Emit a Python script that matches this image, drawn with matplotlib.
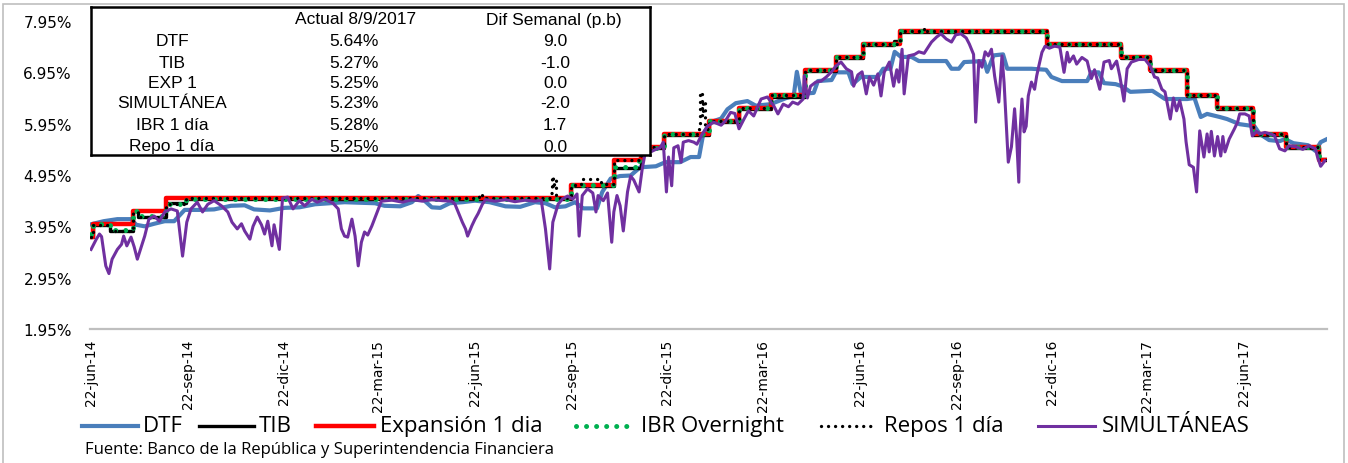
import matplotlib
matplotlib.use('Agg')
import matplotlib.pyplot as plt
from matplotlib.lines import Line2D
from matplotlib.patches import Rectangle
import pandas as pd

# Tasas de interés de corto plazo, 22-jun-2014 a 8-sep-2017 (% efectivo anual)
inicio = pd.Timestamp('2014-06-22')

# Tasa de expansión 1 día (política), fechas de cambio
exp_fechas = ['2014-06-22', '2014-06-24', '2014-08-01', '2014-09-01', '2015-09-21',
              '2015-11-01', '2015-11-27', '2015-12-19', '2016-01-30', '2016-02-28',
              '2016-03-29', '2016-05-01', '2016-05-30', '2016-06-25', '2016-07-30',
              '2016-12-17', '2017-02-25', '2017-03-25', '2017-04-29', '2017-05-27',
              '2017-07-01', '2017-08-01', '2017-09-01', '2017-09-08']
exp_valores = [3.75, 4.00, 4.25, 4.50, 4.75, 5.25, 5.50, 5.75, 6.00, 6.25,
               6.50, 7.00, 7.25, 7.50, 7.75, 7.50, 7.25, 7.00, 6.50, 6.25,
               5.75, 5.50, 5.25, 5.25]

# TIB
tib_fechas = ['2014-06-22', '2014-06-24', '2014-07-10', '2014-08-01', '2014-08-06',
              '2014-09-01', '2014-09-20', '2015-09-21', '2015-11-01', '2015-11-27',
              '2015-12-19', '2016-01-30', '2016-02-28', '2016-03-29', '2016-05-01',
              '2016-05-30', '2016-06-25', '2016-07-24', '2016-07-30', '2016-12-17',
              '2017-02-25', '2017-03-25', '2017-04-29', '2017-05-27', '2017-07-01',
              '2017-08-01', '2017-09-01', '2017-09-08']
tib_valores = [3.75, 3.98, 3.86, 4.24, 4.14, 4.40, 4.49, 4.74, 5.08, 5.47,
               5.73, 5.98, 6.23, 6.47, 6.97, 7.23, 7.48, 7.56, 7.73, 7.48,
               7.23, 6.98, 6.48, 6.23, 5.73, 5.48, 5.26, 5.27]

# IBR overnight
ibr_fechas = ['2014-06-22', '2014-06-24', '2014-07-10', '2014-08-01', '2014-08-06',
              '2014-09-01', '2014-09-20', '2015-09-21', '2015-11-01', '2015-11-25',
              '2015-12-19', '2016-01-30', '2016-02-28', '2016-03-29', '2016-05-01',
              '2016-05-30', '2016-06-25', '2016-07-30', '2016-12-17', '2017-02-25',
              '2017-03-25', '2017-04-29', '2017-05-27', '2017-07-01', '2017-08-01',
              '2017-09-01', '2017-09-08']
ibr_valores = [3.80, 3.99, 3.87, 4.25, 4.15, 4.38, 4.49, 4.75, 5.10, 5.48,
               5.75, 6.00, 6.25, 6.50, 7.00, 7.25, 7.50, 7.75, 7.50, 7.25,
               7.00, 6.50, 6.25, 5.75, 5.50, 5.28, 5.28]

# Repos 1 día
repos_fechas = ['2014-06-22', '2014-06-24', '2014-07-10', '2014-08-01', '2014-08-06',
                '2014-09-01', '2014-09-20', '2015-06-26', '2015-06-29', '2015-09-01',
                '2015-09-03', '2015-09-04', '2015-09-05', '2015-09-07', '2015-09-09',
                '2015-09-21', '2015-10-01', '2015-10-20', '2015-11-01', '2015-11-27',
                '2015-12-19', '2016-01-21', '2016-01-22', '2016-01-24', '2016-01-25',
                '2016-01-27', '2016-01-30', '2016-02-28', '2016-03-29', '2016-05-01',
                '2016-05-30', '2016-06-25', '2016-07-30', '2016-08-22', '2016-08-24',
                '2016-12-17', '2017-02-25', '2017-03-25', '2017-04-29', '2017-05-27',
                '2017-07-01', '2017-08-01', '2017-09-01', '2017-09-08']
repos_valores = [3.75, 3.98, 3.86, 4.22, 4.14, 4.38, 4.50, 4.58, 4.50, 4.60,
                 4.93, 4.70, 4.85, 4.55, 4.50, 4.75, 4.88, 4.78, 5.25, 5.50,
                 5.75, 5.95, 6.57, 6.10, 6.40, 5.85, 6.00, 6.25, 6.50, 7.00,
                 7.25, 7.50, 7.75, 7.82, 7.75, 7.50, 7.25, 7.00, 6.50, 6.25,
                 5.75, 5.50, 5.25, 5.25]

# DTF (días desde 22-jun-2014)
dtf_dias = [0, 12, 25, 38, 43, 51, 60, 70, 79, 89,
            103, 117, 133, 146, 155, 170, 184, 198, 213, 227,
            241, 255, 270, 279, 294, 305, 311, 317, 324, 332,
            341, 353, 365, 379, 394, 408, 422, 432, 441, 451,
            460, 468, 481, 486, 494, 503, 513, 522, 537, 546,
            560, 570, 578, 582, 589, 599, 605, 613, 624, 632,
            646, 661, 668, 671, 675, 687, 691, 704, 708, 720,
            724, 732, 748, 753, 760, 764, 770, 780, 787, 813,
            818, 825, 830, 849, 852, 858, 867, 871, 894, 908,
            913, 923, 947, 951, 958, 963, 974, 980, 988, 1009,
            1021, 1042, 1049, 1055, 1061, 1073, 1080, 1092, 1106, 1111,
            1120, 1130, 1135, 1143, 1157, 1164, 1169, 1174]
dtf_valores = [3.99, 4.05, 4.09, 4.09, 3.98, 3.95, 4.00, 4.05, 4.05, 4.27,
               4.27, 4.28, 4.35, 4.36, 4.28, 4.26, 4.31, 4.32, 4.38, 4.40,
               4.42, 4.41, 4.40, 4.35, 4.34, 4.42, 4.54, 4.45, 4.32, 4.31,
               4.40, 4.42, 4.45, 4.42, 4.34, 4.33, 4.42, 4.40, 4.32, 4.34,
               4.42, 4.30, 4.30, 4.62, 4.88, 4.93, 4.94, 5.10, 5.12, 5.20,
               5.20, 5.30, 5.30, 5.75, 5.98, 6.05, 6.23, 6.35, 6.39, 6.30,
               6.33, 6.45, 6.49, 6.96, 6.53, 6.55, 6.78, 6.80, 6.95, 6.95,
               6.72, 6.86, 6.86, 7.02, 7.02, 7.35, 7.25, 7.25, 7.17, 7.17,
               7.02, 7.02, 7.15, 7.17, 6.96, 7.28, 7.30, 7.02, 7.02, 7.00,
               6.86, 6.78, 6.78, 6.95, 6.95, 6.74, 6.72, 6.68, 6.57, 6.59,
               6.43, 6.43, 6.45, 6.08, 6.14, 6.08, 6.04, 5.94, 5.90, 5.75,
               5.63, 5.61, 5.65, 5.57, 5.53, 5.42, 5.59, 5.64]

# Simultáneas (días desde 22-jun-2014)
sim_dias = [0, 5, 8, 10, 14, 17, 20, 25, 29, 31,
            34, 38, 41, 44, 48, 51, 55, 60, 65, 70,
            76, 82, 87, 91, 95, 101, 106, 111, 117, 124,
            130, 134, 139, 143, 146, 151, 154, 158, 162, 165,
            168, 172, 174, 179, 182, 187, 192, 198, 203, 210,
            215, 222, 230, 235, 238, 241, 244, 248, 251, 254,
            257, 260, 263, 267, 272, 276, 286, 296, 305, 315,
            324, 334, 343, 346, 349, 353, 356, 358, 362, 365,
            368, 372, 375, 384, 394, 403, 413, 422, 428, 432,
            436, 439, 444, 448, 453, 458, 462, 464, 467, 472,
            477, 480, 482, 487, 491, 495, 497, 500, 503, 506,
            510, 513, 516, 521, 524, 527, 532, 537, 541, 544,
            547, 549, 552, 554, 558, 561, 563, 568, 573, 576,
            580, 586, 592, 599, 603, 608, 612, 616, 621, 625,
            630, 637, 643, 649, 653, 658, 663, 667, 672, 677,
            678, 681, 684, 689, 694, 699, 704, 708, 713, 718,
            723, 725, 729, 733, 737, 740, 744, 748, 751, 754,
            759, 763, 766, 768, 771, 773, 777, 783, 787, 792,
            799, 804, 808, 813, 818, 822, 827, 832, 835, 839,
            841, 844, 847, 850, 853, 856, 859, 863, 866, 868,
            872, 875, 878, 880, 882, 883, 885, 887, 889, 891,
            894, 897, 899, 901, 904, 907, 911, 916, 921, 925,
            928, 930, 934, 937, 942, 947, 951, 954, 959, 963,
            968, 970, 975, 978, 982, 985, 989, 996, 1002, 1007,
            1011, 1014, 1018, 1021, 1026, 1029, 1032, 1035, 1039, 1041,
            1044, 1048, 1051, 1054, 1058, 1061, 1063, 1065, 1068, 1071,
            1074, 1076, 1078, 1082, 1087, 1090, 1092, 1097, 1101, 1104,
            1108, 1111, 1116, 1121, 1125, 1130, 1135, 1139, 1145, 1152,
            1158, 1164, 1166, 1169, 1173]
sim_valores = [3.50, 3.70, 3.80, 3.75, 3.18, 3.03, 3.31, 3.50, 3.60, 3.76,
               3.57, 3.74, 3.55, 3.31, 3.57, 3.76, 4.09, 4.15, 4.05, 4.23,
               4.29, 4.25, 3.37, 4.03, 4.29, 4.42, 4.23, 4.38, 4.45, 4.35,
               4.23, 4.03, 3.90, 4.00, 3.86, 3.70, 3.95, 4.13, 3.98, 3.80,
               4.05, 3.57, 3.98, 3.50, 4.50, 4.52, 4.29, 4.45, 4.35, 4.48,
               4.42, 4.48, 4.40, 4.29, 3.90, 3.76, 3.74, 4.09, 3.76, 3.18,
               3.64, 3.84, 3.78, 3.96, 4.23, 4.44, 4.46, 4.42, 4.47, 4.44,
               4.47, 4.45, 4.44, 4.38, 4.23, 4.03, 3.90, 3.76, 3.96, 4.09,
               4.20, 4.38, 4.47, 4.44, 4.47, 4.43, 4.46, 4.44, 4.46, 3.90,
               3.12, 4.03, 4.38, 4.48, 4.54, 4.48, 4.58, 3.76, 4.55, 4.68,
               4.60, 4.23, 4.55, 4.45, 4.60, 3.64, 4.23, 4.55, 4.35, 3.86,
               4.62, 4.93, 4.85, 4.62, 5.07, 5.40, 5.40, 5.45, 5.48, 5.59,
               4.62, 5.30, 4.74, 5.48, 5.52, 5.20, 5.59, 5.62, 5.59, 5.55,
               5.71, 5.90, 5.98, 5.92, 6.00, 6.17, 6.15, 5.85, 6.05, 6.20,
               6.10, 6.43, 6.47, 6.30, 6.14, 6.33, 6.28, 6.37, 6.33, 6.43,
               6.88, 6.45, 6.68, 6.76, 6.78, 6.86, 6.96, 7.07, 7.15, 7.02,
               6.96, 6.68, 6.90, 6.96, 6.53, 6.86, 6.70, 6.92, 6.49, 6.95,
               7.15, 6.68, 7.00, 6.76, 7.40, 6.53, 7.27, 7.30, 7.35, 7.32,
               7.54, 7.64, 7.70, 7.60, 7.54, 7.68, 7.70, 7.62, 7.50, 7.30,
               5.98, 7.18, 7.05, 7.35, 7.27, 7.40, 6.88, 6.37, 7.27, 6.75,
               5.20, 5.50, 6.24, 5.65, 4.81, 5.72, 6.43, 5.79, 5.90, 6.49,
               6.76, 6.62, 6.88, 7.07, 7.34, 7.46, 7.42, 7.46, 7.44, 6.95,
               7.34, 7.15, 7.27, 7.11, 7.24, 7.17, 6.83, 7.00, 6.62, 7.15,
               7.18, 7.02, 7.17, 6.88, 6.39, 7.02, 7.15, 7.20, 7.20, 7.07,
               6.86, 6.84, 6.62, 6.57, 6.04, 6.45, 6.20, 6.40, 6.04, 5.60,
               5.15, 5.10, 4.62, 5.81, 5.30, 5.75, 5.40, 5.80, 5.32, 5.70,
               5.32, 5.70, 5.40, 5.65, 5.85, 5.98, 6.14, 6.14, 6.10, 5.71,
               5.80, 5.75, 5.78, 5.75, 5.72, 5.46, 5.42, 5.52, 5.50, 5.45,
               5.52, 5.46, 5.30, 5.12, 5.23]

# Eje x
tick_fechas = ['2014-06-22', '2014-09-22', '2014-12-22', '2015-03-22', '2015-06-22',
               '2015-09-22', '2015-12-22', '2016-03-22', '2016-06-22', '2016-09-22',
               '2016-12-22', '2017-03-22', '2017-06-22']
tick_etiquetas = ['22-jun-14', '22-sep-14', '22-dic-14', '22-mar-15', '22-jun-15',
                  '22-sep-15', '22-dic-15', '22-mar-16', '22-jun-16', '22-sep-16',
                  '22-dic-16', '22-mar-17', '22-jun-17']
y_ticks = [1.95, 2.95, 3.95, 4.95, 5.95, 6.95, 7.95]

# Tabla resumen
tabla_series = ['DTF', 'TIB', 'EXP 1', 'SIMULTÁNEA', 'IBR 1 día', 'Repo 1 día']
tabla_actual = ['5.64%', '5.27%', '5.25%', '5.23%', '5.28%', '5.25%']
tabla_dif = ['9.0', '-1.0', '0.0', '-2.0', '1.7', '0.0']

W, H = 1348, 464


def fx(x):
    return x / W


def fy(y):
    return 1 - y / H


estilos = {
    'DTF': dict(color='#4A7EBB', lw=3.0),
    'TIB': dict(color='black', lw=2.4),
    'Expansión 1 dia': dict(color='#FF0000', lw=3.2),
    'IBR Overnight': dict(color='#00B050', lw=3.6, ls=(0, (0.01, 2.0)), dash_capstyle='round'),
    'Repos 1 día': dict(color='black', lw=2.4, ls=(0, (0.01, 2.1)), dash_capstyle='round'),
    'SIMULTÁNEAS': dict(color='#7030A0', lw=2.2),
}

fig = plt.figure(figsize=(13.48, 4.64), dpi=100)
fig.patch.set_facecolor('white')
ax = fig.add_axes([fx(90), fy(330), fx(1327) - fx(90), fy(22) - fy(330)])

dtf_x = inicio + pd.to_timedelta(dtf_dias, unit='D')
sim_x = inicio + pd.to_timedelta(sim_dias, unit='D')

ax.plot(dtf_x, dtf_valores, zorder=2, solid_joinstyle='round', **estilos['DTF'])
ax.plot(pd.to_datetime(tib_fechas), tib_valores, drawstyle='steps-post', zorder=3,
        **estilos['TIB'])
ax.plot(pd.to_datetime(exp_fechas), exp_valores, drawstyle='steps-post', zorder=4,
        **estilos['Expansión 1 dia'])
ax.plot(pd.to_datetime(ibr_fechas), ibr_valores, drawstyle='steps-post', zorder=5,
        **estilos['IBR Overnight'])
ax.plot(pd.to_datetime(repos_fechas), repos_valores, drawstyle='steps-post', zorder=6,
        **estilos['Repos 1 día'])
ax.plot(sim_x, sim_valores, zorder=7, solid_joinstyle='round', **estilos['SIMULTÁNEAS'])

ax.set_xlim(pd.Timestamp('2014-06-21'), pd.Timestamp('2017-09-09'))
ax.set_ylim(1.95, 7.95)
ax.set_yticks(y_ticks)
ax.set_yticklabels([f'{v:.2f}%' for v in y_ticks], fontsize=11, family='DejaVu Sans')
ax.set_xticks(pd.to_datetime(tick_fechas))
ax.set_xticklabels(tick_etiquetas, rotation=90, fontsize=10, family='DejaVu Sans')
ax.tick_params(axis='y', length=0, pad=13)
ax.tick_params(axis='x', length=0, pad=7)
for s in ['left', 'top', 'right']:
    ax.spines[s].set_visible(False)
ax.spines['bottom'].set_color('#BFBFBF')
ax.spines['bottom'].set_linewidth(1.6)

# Tabla dentro del gráfico
tax = fig.add_axes([fx(91), fy(156), fx(650) - fx(91), fy(8) - fy(156)])
tax.set_xticks([])
tax.set_yticks([])
tax.set_facecolor('white')
for s in tax.spines.values():
    s.set_linewidth(1.8)
    s.set_color('black')


def tx(x):
    return (x - 91) / 559


def ty(y):
    return (156 - y) / 148


kw_tabla = dict(transform=tax.transAxes, ha='center', va='center', fontsize=12.5,
                family='Liberation Sans')
tax.text(tx(356), ty(20), 'Actual 8/9/2017', **kw_tabla)
tax.text(tx(554), ty(20), 'Dif Semanal (p.b)', **kw_tabla)
filas_y = [42, 63, 83, 104, 126, 147]
for yy, nombre, act, dif in zip(filas_y, tabla_series, tabla_actual, tabla_dif):
    tax.text(tx(172), ty(yy), nombre, **kw_tabla)
    tax.text(tx(354), ty(yy), act, **kw_tabla)
    tax.text(tx(555), ty(yy), dif, **kw_tabla)

# Leyenda manual
leyenda = [('DTF', 82, 138, 143), ('TIB', 199, 254, 259),
           ('Expansión 1 dia', 316, 374, 380), ('IBR Overnight', 576, 636, 641),
           ('Repos 1 día', 821, 877, 884), ('SIMULTÁNEAS', 1038, 1095, 1102)]
y_ley = 427
for nombre, x0, x1, xt in leyenda:
    fig.add_artist(Line2D([fx(x0), fx(x1)], [fy(y_ley), fy(y_ley)],
                          transform=fig.transFigure, **estilos[nombre]))
    fig.text(fx(xt), fy(y_ley), nombre, ha='left', va='center', fontsize=16,
             family='Open Sans')

fig.text(fx(85), fy(450), 'Fuente: Banco de la República y Superintendencia Financiera',
         ha='left', va='center', fontsize=12, family='Open Sans')

# Borde del área del gráfico
fig.add_artist(Rectangle((fx(3), fy(470)), fx(1344) - fx(3), fy(5) - fy(470),
                         transform=fig.transFigure, fill=False,
                         edgecolor='#BFBFBF', lw=1.2))

fig.savefig('out.png', dpi=100, facecolor='white')
